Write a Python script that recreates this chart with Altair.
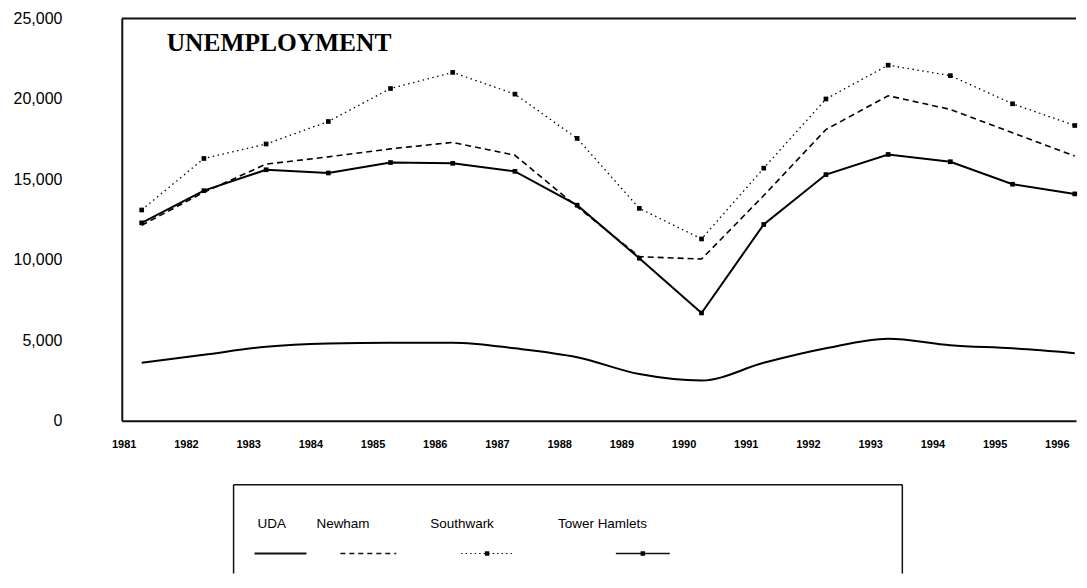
import altair as alt
import pandas as pd

# ---- data ----
years = list(range(1981, 1997))
uda = [3600, 4100, 4600, 4800, 4850, 4850, 4500, 3950, 2900, 2500, 3600, 4500, 5100, 4700, 4500, 4200]
newham = [12150, 14200, 15950, 16400, 16900, 17300, 16500, 13300, 10200, 10050, 14000, 18100, 20200, 19350, 17900, 16450]
southwark = [13100, 16300, 17200, 18600, 20650, 21650, 20300, 17550, 13200, 11300, 15700, 20000, 22100, 21450, 19700, 18350]
tower_hamlets = [12300, 14300, 15600, 15400, 16050, 16000, 15500, 13400, 10100, 6700, 12200, 15300, 16550, 16100, 14700, 14100]
series_names = ["UDA", "Newham", "Southwark", "Tower Hamlets"]
y_ticks = [0, 5000, 10000, 15000, 20000, 25000]
title_text = "UNEMPLOYMENT"

# ---- layout ----
W, H = 956, 403
INK = "#111111"
rows = []
for name, vals in zip(series_names, [uda, newham, southwark, tower_hamlets]):
    for yr, v in zip(years, vals):
        rows.append({"series": name, "year": yr, "value": v})
df = pd.DataFrame(rows)

x_enc = alt.X("year:Q",
              scale=alt.Scale(domain=[1980.68, 1996.02], nice=False, zero=False),
              axis=alt.Axis(values=years, format="d", title=None, ticks=False, grid=False,
                            labelOffset=-18, labelPadding=18, labelFont="Liberation Sans",
                            labelFontWeight="bold", labelFontSize=11, labelColor="black",
                            domainColor=INK, domainWidth=2))
y_enc = alt.Y("value:Q",
              scale=alt.Scale(domain=[0, 25000], nice=False),
              axis=alt.Axis(values=y_ticks, format=",d", title=None, ticks=False, grid=False,
                            labelPadding=60, labelFont="Liberation Sans", labelFontSize=16,
                            labelColor="black", domainColor=INK, domainWidth=2))

base = alt.Chart(df).encode(x=x_enc, y=y_enc)

def sel(name):
    return base.transform_filter(alt.datum.series == name)

l_uda = sel("UDA").mark_line(color="black", strokeWidth=2, interpolate="monotone")
l_new = sel("Newham").mark_line(color="black", strokeWidth=1.6, strokeDash=[6, 4])
l_sou = sel("Southwark").mark_line(color="black", strokeWidth=1.3, strokeDash=[1.5, 3.5])
p_sou = sel("Southwark").mark_point(color="black", shape="square", filled=True, size=22, opacity=1)
l_th = sel("Tower Hamlets").mark_line(color="black", strokeWidth=2)
p_th = sel("Tower Hamlets").mark_point(color="black", shape="square", filled=True, size=22, opacity=1)

one = pd.DataFrame({"k": [0]})
top_rule = alt.Chart(one).mark_rule(color=INK, strokeWidth=2).encode(
    x=alt.value(0), x2=alt.value(W), y=alt.value(0))

title = alt.Chart(pd.DataFrame({"t": [title_text]})).mark_text(
    font="Liberation Serif", fontWeight="bold", fontSize=25.5, align="left", baseline="middle",
    color="black").encode(text="t:N", x=alt.value(45), y=alt.value(25))

# ---- legend (drawn below the plot) ----
box_l, box_r, box_t, box_b = 112, 782, 467, 556
legend_parts = [
    alt.Chart(one).mark_rule(color=INK, strokeWidth=1.5).encode(x=alt.value(box_l), x2=alt.value(box_r), y=alt.value(box_t)),
    alt.Chart(one).mark_rule(color=INK, strokeWidth=1.5).encode(x=alt.value(box_l), y=alt.value(box_t), y2=alt.value(box_b)),
    alt.Chart(one).mark_rule(color=INK, strokeWidth=1.5).encode(x=alt.value(box_r), y=alt.value(box_t), y2=alt.value(box_b)),
]
label_x = [136, 195, 309, 437]
line_x = [(133, 185), (219, 275), (340, 392), (495, 549)]
line_styles = [
    dict(strokeWidth=2),
    dict(strokeWidth=1.4, strokeDash=[5, 4]),
    dict(strokeWidth=1.2, strokeDash=[1.5, 3]),
    dict(strokeWidth=1.6),
]
markers = [None, None, 366, 522]
ly, lt = 536, 506
for name, lx, (a, b), st, mk in zip(series_names, label_x, line_x, line_styles, markers):
    legend_parts.append(
        alt.Chart(pd.DataFrame({"t": [name]})).mark_text(
            font="Liberation Sans", fontSize=13.5, align="left", baseline="middle", color="black"
        ).encode(text="t:N", x=alt.value(lx), y=alt.value(lt)))
    legend_parts.append(
        alt.Chart(one).mark_rule(color=INK, **st).encode(x=alt.value(a), x2=alt.value(b), y=alt.value(ly)))
    if mk is not None:
        legend_parts.append(
            alt.Chart(one).mark_point(color="black", shape="square", filled=True, size=20, opacity=1).encode(
                x=alt.value(mk), y=alt.value(ly)))

chart = alt.layer(l_uda, l_new, l_sou, p_sou, l_th, p_th, top_rule, title, *legend_parts).properties(
    width=W, height=H, background="white",
    padding={"left": 5, "top": 2, "right": 0, "bottom": 0}
).configure_view(strokeWidth=0, stroke="transparent")

chart.save("out.html", embed_options={"renderer": "svg", "actions": False})
